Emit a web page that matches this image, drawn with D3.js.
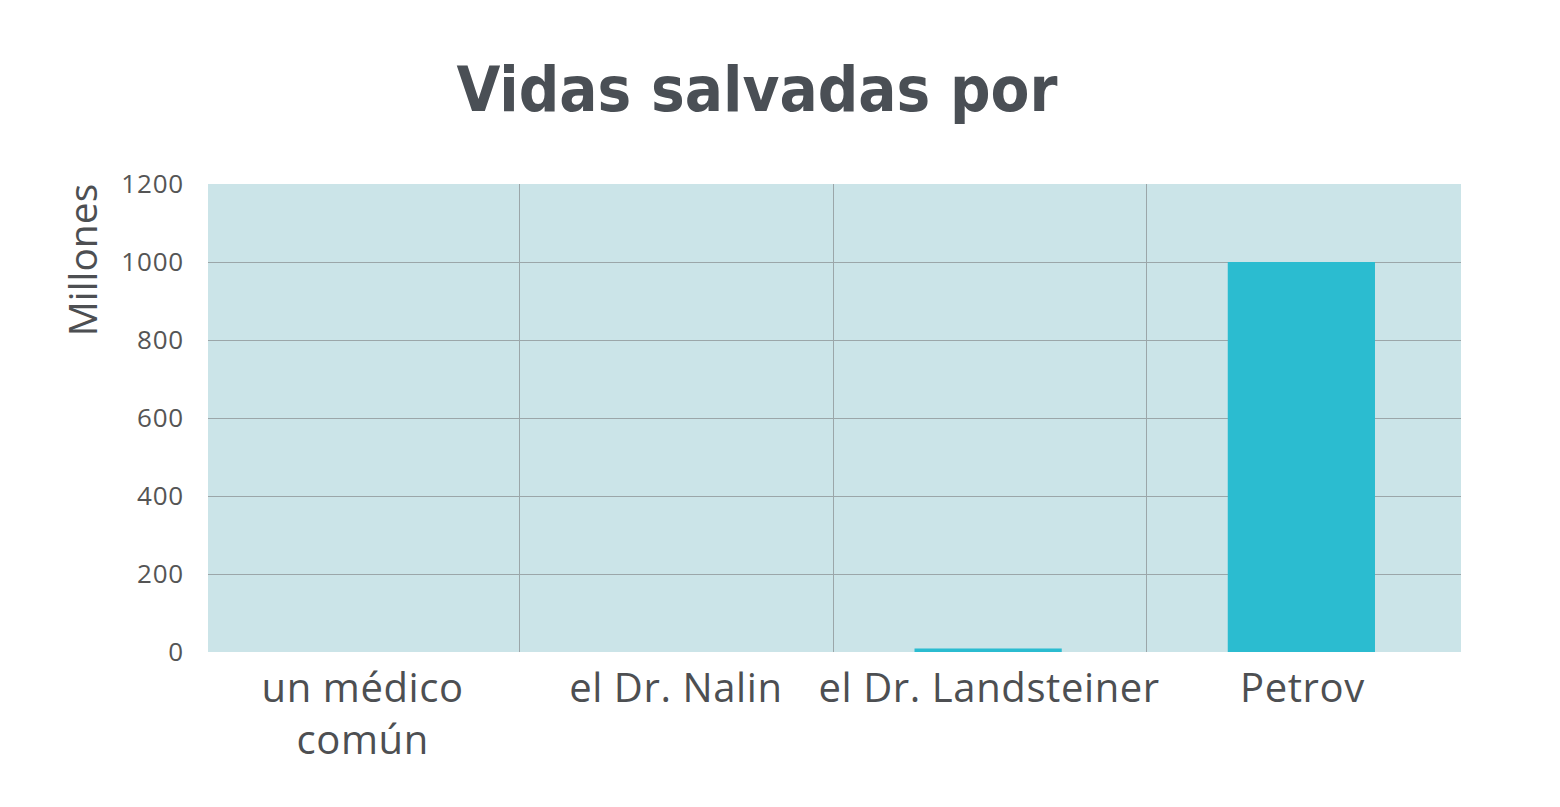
<!DOCTYPE html>
<html lang="es">
<head>
<meta charset="UTF-8">
<title>Vidas salvadas por</title>
<script src="https://d3js.org/d3.v7.min.js"></script>
<style>
  html, body { margin: 0; padding: 0; background: #fff; }
  svg { display: block; }
</style>
</head>
<body>
<svg id="chart" width="1560" height="807"></svg>
<script>
// datos
const categories = [["un médico", "común"], ["el Dr. Nalin"], ["el Dr. Landsteiner"], ["Petrov"]];
const values = [0, 0, 9, 1000];
const yTicks = [0, 200, 400, 600, 800, 1000, 1200];

const svg = d3.select("#chart");
const margin = { top: 184, right: 99, bottom: 155, left: 208 };
const width = 1560 - margin.left - margin.right;
const height = 807 - margin.top - margin.bottom;

const keys = categories.map(c => c.join(" "));

const x = d3.scaleBand().domain(keys).range([0, width]).padding(0);
const y = d3.scaleLinear().domain([0, 1200]).range([height, 0]);
const barW = x.bandwidth() * 0.47;

// titulo
svg.append("text")
  .attr("x", 757).attr("y", 111)
  .attr("text-anchor", "middle")
  .attr("font-family", "DejaVu Sans Condensed, DejaVu Sans")
  .attr("font-weight", "bold")
  .attr("font-size", 63)
  .attr("fill", "#4a4f55")
  .text("Vidas salvadas por");

const g = svg.append("g").attr("transform", `translate(${margin.left},${margin.top})`);

// fondo del area
g.append("rect")
  .attr("width", width).attr("height", height)
  .attr("fill", "#cbe4e8");

// lineas de cuadricula
g.selectAll(".hgrid")
  .data(yTicks.filter(d => d > 0 && d < 1200))
  .enter().append("line")
  .attr("x1", 0).attr("x2", width)
  .attr("y1", d => Math.round(y(d)) + 0.5).attr("y2", d => Math.round(y(d)) + 0.5)
  .attr("stroke", "#9ba6a9").attr("stroke-width", 1);

g.selectAll(".vgrid")
  .data(keys.slice(1))
  .enter().append("line")
  .attr("x1", d => Math.round(x(d)) - 1.5).attr("x2", d => Math.round(x(d)) - 1.5)
  .attr("y1", 0).attr("y2", height)
  .attr("stroke", "#9ba6a9").attr("stroke-width", 1);

// barras
g.selectAll(".bar")
  .data(values)
  .enter().append("rect")
  .attr("x", (d, i) => x(keys[i]) + x.bandwidth() / 2 - barW / 2 - 3)
  .attr("width", barW)
  .attr("y", d => y(d))
  .attr("height", d => height - y(d))
  .attr("fill", "#2bbcd0");

// eje y
const yAxis = g.append("g")
  .call(d3.axisLeft(y).tickValues(yTicks).tickFormat(d3.format("d")).tickSize(0).tickPadding(24));
yAxis.select(".domain").remove();
yAxis.selectAll("text")
  .attr("font-family", "Open Sans")
  .attr("font-size", 26)
  .attr("letter-spacing", 0.8)
  .attr("fill", "#555");

// eje x
const xAxis = g.append("g")
  .attr("transform", `translate(0,${height})`)
  .call(d3.axisBottom(x).tickSize(0).tickFormat(() => ""));
xAxis.select(".domain").remove();
xAxis.selectAll(".tick text").remove();
xAxis.selectAll(".tick").each(function (d, i) {
  const t = d3.select(this).append("text")
    .attr("text-anchor", "middle")
    .attr("font-family", "Open Sans")
    .attr("font-size", 40)
    .attr("letter-spacing", 0.6)
    .attr("fill", "#4d4f52");
  categories[i].forEach((line, j) => {
    t.append("tspan").attr("x", -2).attr("y", 50 + j * 52).text(line);
  });
});

// titulo del eje y
svg.append("text")
  .attr("transform", "translate(97,260) rotate(-90)")
  .attr("text-anchor", "middle")
  .attr("font-family", "Open Sans")
  .attr("font-size", 39)
  .attr("fill", "#4d4f52")
  .text("Millones");
</script>
</body>
</html>
